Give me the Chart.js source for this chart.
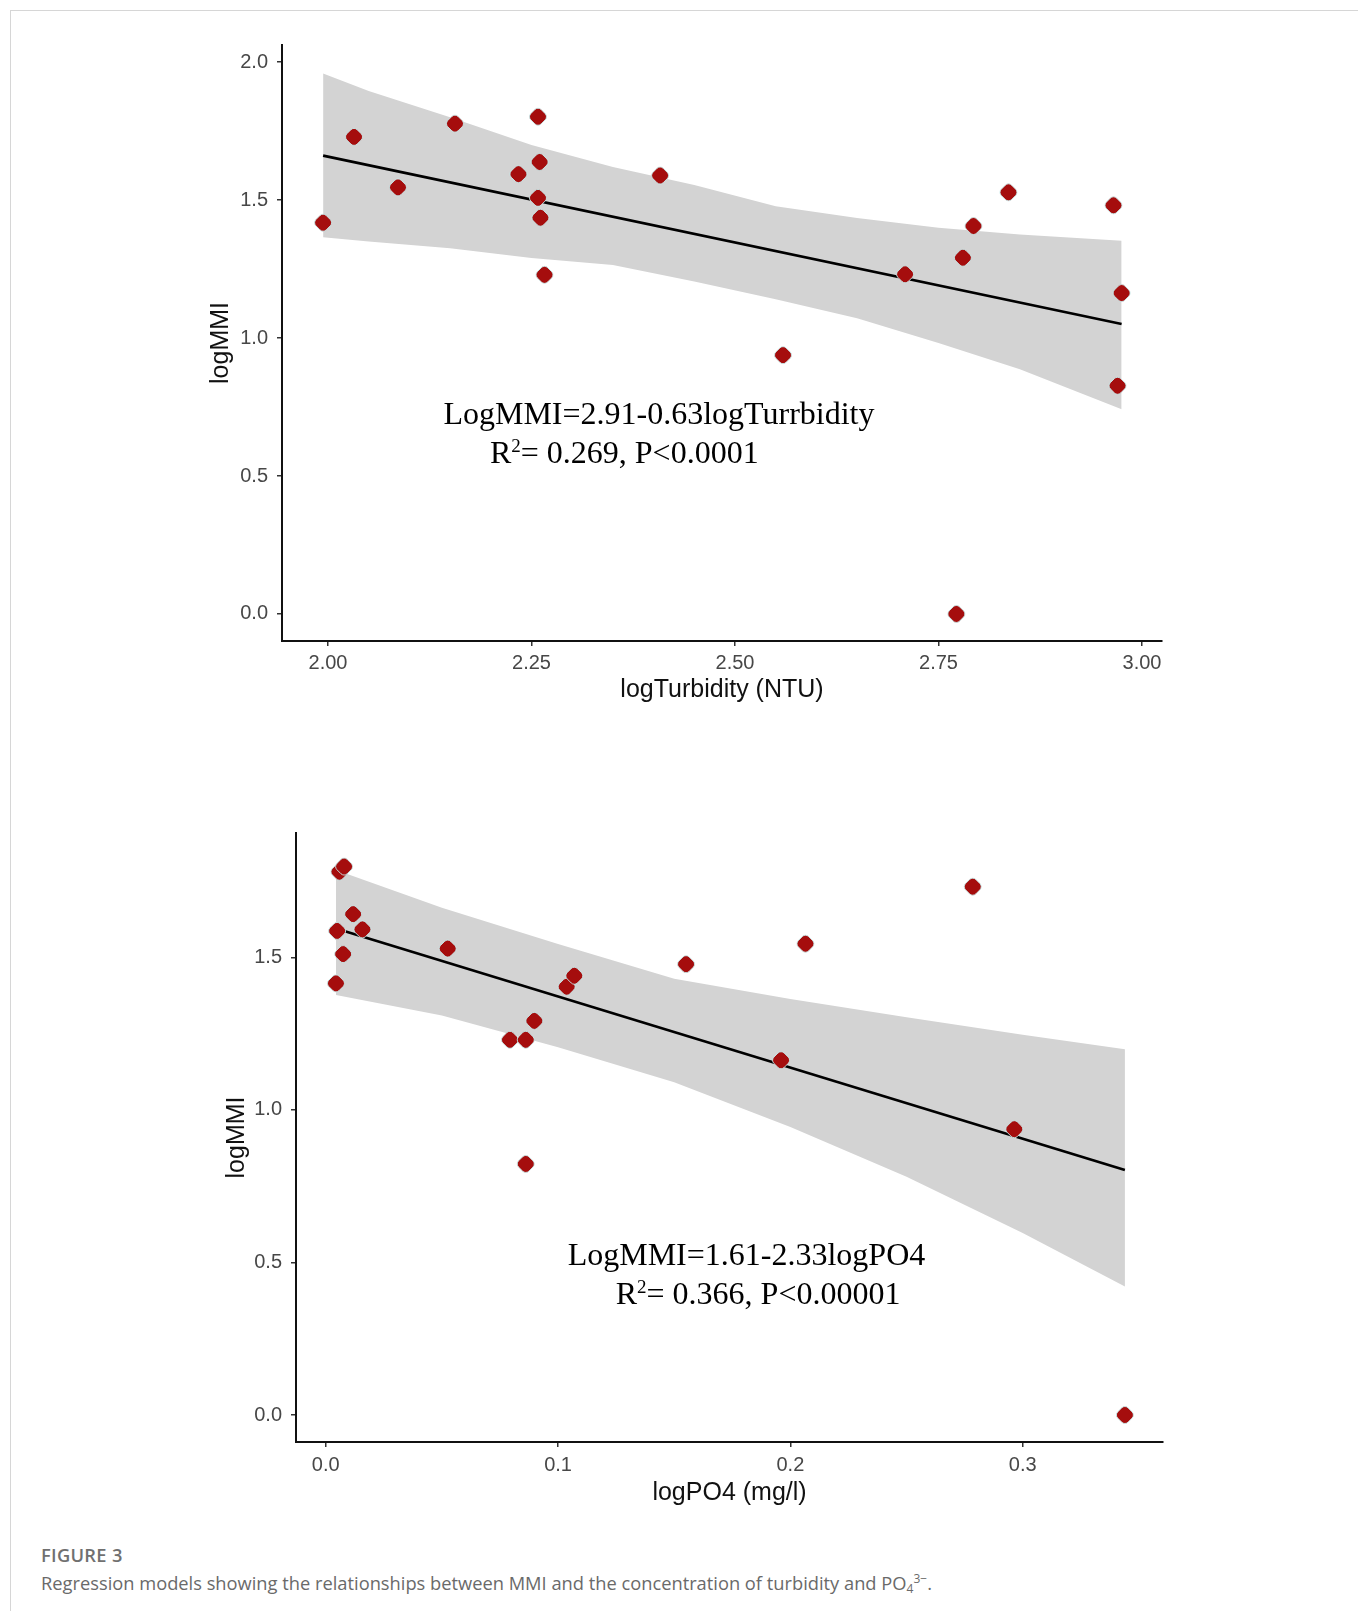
<!DOCTYPE html>
<html>
<head>
<meta charset="utf-8">
<script src="https://cdn.jsdelivr.net/npm/chart.js@4/dist/chart.umd.min.js"></script>
<style>
  body { margin: 0; background: #fff; }
  #page { position: relative; width: 1358px; height: 1611px; overflow: hidden; }
  #frame { position: absolute; left: 10px; top: 10px; right: 0; bottom: 0;
           border-left: 1px solid #d6d6d6; border-top: 1px solid #d6d6d6; }
  canvas { position: absolute; left: 0; }
  #caption { position: absolute; left: 41px; top: 1543px; font-family: "Open Sans", sans-serif;
             color: #6a6a6a; font-size: 18.3px; line-height: 24px; }
  #caption .fig { font-weight: 600; color: #707070; letter-spacing: 0.3px; }
</style>
</head>
<body>
<div id="page">
  <div id="frame"></div>
  <canvas id="turbChart" width="1358" height="720" style="top:0;width:1358px;height:720px"></canvas>
  <canvas id="po4Chart" width="1358" height="760" style="top:760px;width:1358px;height:760px"></canvas>
  <div id="caption">
    <div class="fig">FIGURE 3</div>
    <div>Regression models showing the relationships between MMI and the concentration of turbidity and PO<span style="font-size:12px;vertical-align:-3px">4</span><span style="font-size:12px;vertical-align:7px">3−</span>.</div>
  </div>
</div>
<script>
"use strict";

// top panel: logMMI vs logTurbidity
const turbX = [1.994, 2.032, 2.086, 2.156, 2.234, 2.258, 2.260, 2.258, 2.261, 2.266,
  2.408, 2.559, 2.709, 2.780, 2.793, 2.836, 2.965, 2.975, 2.970, 2.772];
const turbMMI = [1.418, 1.729, 1.546, 1.777, 1.594, 1.802, 1.638, 1.508, 1.436, 1.229,
  1.589, 0.938, 1.231, 1.291, 1.406, 1.528, 1.481, 1.163, 0.827, 0.0];
const turbFitX = [1.994, 2.975];
const turbFitY = [1.661, 1.051];
const turbBandX = [1.994, 2.05, 2.15, 2.25, 2.35, 2.45, 2.55, 2.65, 2.75, 2.85, 2.975];
const turbBandUpper = [1.959, 1.895, 1.80, 1.70, 1.62, 1.555, 1.478, 1.435, 1.40, 1.375, 1.353];
const turbBandLower = [1.365, 1.35, 1.325, 1.29, 1.265, 1.205, 1.141, 1.072, 0.982, 0.887, 0.742];
const turbXTicks = [2.0, 2.25, 2.5, 2.75, 3.0];
const turbYTicks = [0.0, 0.5, 1.0, 1.5, 2.0];

// bottom panel: logMMI vs logPO4
const po4X = [0.0059, 0.0079, 0.0118, 0.0158, 0.0049, 0.0075, 0.0044, 0.0525, 0.1037, 0.107,
  0.0898, 0.0793, 0.0861, 0.1551, 0.2065, 0.2785, 0.196, 0.0861, 0.2964, 0.344];
const po4MMI = [1.781, 1.798, 1.642, 1.592, 1.587, 1.511, 1.415, 1.529, 1.404, 1.440,
  1.292, 1.230, 1.230, 1.478, 1.545, 1.732, 1.163, 0.823, 0.937, 0.0];
const po4FitX = [0.0044, 0.344];
const po4FitY = [1.595, 0.803];
const po4BandX = [0.0044, 0.05, 0.1, 0.15, 0.2, 0.25, 0.3, 0.344];
const po4BandUpper = [1.787, 1.663, 1.544, 1.43, 1.364, 1.304, 1.247, 1.199];
const po4BandLower = [1.377, 1.31, 1.206, 1.091, 0.944, 0.781, 0.597, 0.421];
const po4XTicks = [0.0, 0.1, 0.2, 0.3];
const po4YTicks = [0.0, 0.5, 1.0, 1.5];

const pts = (xs, ys) => xs.map((x, i) => ({ x: x, y: ys[i] }));

// draws the regression equation text in data coordinates
const equationPlugin = {
  id: "equation",
  afterDatasetsDraw(chart, args, opts) {
    const { ctx, scales } = chart;
    ctx.save();
    ctx.fillStyle = "#000";
    ctx.textBaseline = "alphabetic";
    opts.lines.forEach((line) => {
      const cx = scales.x.getPixelForValue(line.x);
      const cy = scales.y.getPixelForValue(line.y) + 11;
      let total = 0;
      line.parts.forEach((p) => {
        ctx.font = p.size + 'px "Liberation Serif"';
        total += ctx.measureText(p.text).width;
      });
      let px = cx - total / 2;
      line.parts.forEach((p) => {
        ctx.font = p.size + 'px "Liberation Serif"';
        ctx.fillText(p.text, px, cy + (p.rise || 0));
        px += ctx.measureText(p.text).width;
      });
    });
    ctx.restore();
  },
};

function makeChart(id, cfg) {
  const tickFont = { family: "Liberation Sans", size: 20 };
  const titleFont = { family: "Liberation Sans", size: 25 };
  return new Chart(document.getElementById(id).getContext("2d"), {
    type: "line",
    data: {
      datasets: [
        {
          data: pts(cfg.x, cfg.y),
          showLine: false,
          pointStyle: "rectRounded",
          rotation: 45,
          pointRadius: 8.5,
          pointBackgroundColor: "#a50d0d",
          pointBorderColor: "rgba(200,235,235,0.9)",
          pointBorderWidth: 1,
          order: 0,
        },
        {
          data: pts(cfg.fitX, cfg.fitY),
          borderColor: "#000",
          borderWidth: 2.6,
          pointRadius: 0,
          fill: false,
          order: 1,
        },
        {
          data: pts(cfg.bandX, cfg.bandUpper),
          borderWidth: 0,
          borderColor: "rgba(0,0,0,0)",
          backgroundColor: "#d3d3d3",
          pointRadius: 0,
          fill: "+1",
          order: 2,
        },
        {
          data: pts(cfg.bandX, cfg.bandLower),
          borderWidth: 0,
          borderColor: "rgba(0,0,0,0)",
          pointRadius: 0,
          fill: false,
          order: 3,
        },
      ],
    },
    options: {
      responsive: false,
      animation: false,
      layout: { padding: cfg.padding },
      plugins: {
        legend: { display: false },
        tooltip: { enabled: false },
        equation: { lines: cfg.lines },
      },
      scales: {
        x: {
          type: "linear",
          min: cfg.xMin,
          max: cfg.xMax,
          afterBuildTicks: (s) => { s.ticks = cfg.xTicks.map((v) => ({ value: v })); },
          afterFit: (s) => { s.height = cfg.xAxisH; },
          ticks: {
            font: tickFont,
            color: "#474747",
            padding: cfg.xTickPad,
            maxRotation: 0,
            callback: (v) => v.toFixed(cfg.xDecimals),
          },
          grid: { drawOnChartArea: false, drawTicks: true, tickLength: 5, color: "#333", lineWidth: 1.5 },
          border: { display: true, color: "#111", width: 2 },
          title: { display: true, text: cfg.xTitle, font: titleFont, color: "#111", padding: 0 },
        },
        y: {
          min: cfg.yMin,
          max: cfg.yMax,
          afterBuildTicks: (s) => { s.ticks = cfg.yTicks.map((v) => ({ value: v })); },
          afterFit: (s) => { s.width = cfg.yAxisW; },
          ticks: {
            font: tickFont,
            color: "#474747",
            padding: 9,
            callback: (v) => v.toFixed(1),
          },
          grid: { drawOnChartArea: false, drawTicks: true, tickLength: 5, color: "#333", lineWidth: 1.5 },
          border: { display: true, color: "#111", width: 2 },
          title: { display: true, text: "logMMI", font: titleFont, color: "#111", padding: 0 },
        },
      },
    },
    plugins: [equationPlugin],
  });
}

makeChart("turbChart", {
  x: turbX, y: turbMMI,
  fitX: turbFitX, fitY: turbFitY,
  bandX: turbBandX, bandUpper: turbBandUpper, bandLower: turbBandLower,
  xTicks: turbXTicks, yTicks: turbYTicks, xDecimals: 2,
  xMin: 1.9435, xMax: 3.0246, yMin: -0.098, yMax: 2.062,
  xTitle: "logTurbidity (NTU)",
  padding: { left: 206, top: 45, right: 196, bottom: 15 },
  yAxisW: 76, xAxisH: 64, xTickPad: 5,
  lines: [
    { x: 2.4066, y: 0.728, parts: [{ text: "LogMMI=2.91-0.63logTurrbidity", size: 32 }] },
    { x: 2.364, y: 0.587, parts: [
      { text: "R", size: 32 }, { text: "2", size: 19, rise: -11 },
      { text: "= 0.269, P<0.0001", size: 32 }] },
  ],
});

makeChart("po4Chart", {
  x: po4X, y: po4MMI,
  fitX: po4FitX, fitY: po4FitY,
  bandX: po4BandX, bandUpper: po4BandUpper, bandLower: po4BandLower,
  xTicks: po4XTicks, yTicks: po4YTicks, xDecimals: 1,
  xMin: -0.0128, xMax: 0.3604, yMin: -0.0885, yMax: 1.908,
  xTitle: "logPO4 (mg/l)",
  padding: { left: 222, top: 73, right: 195, bottom: 12 },
  yAxisW: 74, xAxisH: 66, xTickPad: 6,
  lines: [
    { x: 0.1811, y: 0.528, parts: [{ text: "LogMMI=1.61-2.33logPO4", size: 32 }] },
    { x: 0.1861, y: 0.400, parts: [
      { text: "R", size: 32 }, { text: "2", size: 19, rise: -11 },
      { text: "= 0.366, P<0.00001", size: 32 }] },
  ],
});
</script>
</body>
</html>
